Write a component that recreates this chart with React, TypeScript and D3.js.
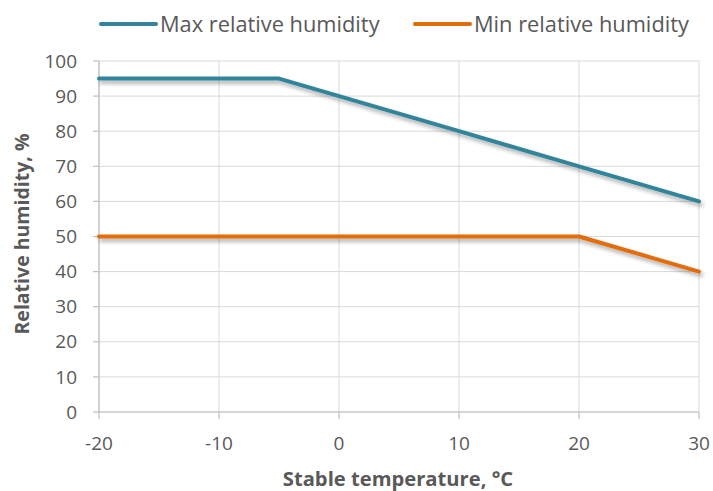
import React from "react";
import * as d3 from "d3";

const xTicks = [-20, -10, 0, 10, 20, 30];
const yTicks = [0, 10, 20, 30, 40, 50, 60, 70, 80, 90, 100];
const maxTemps = [-20, -5, 0, 10, 20, 30];
const maxHumidity = [95, 95, 90, 80, 70, 60];
const minTemps = [-20, 20, 30];
const minHumidity = [50, 50, 40];
const seriesNames = ["Max relative humidity", "Min relative humidity"];
const seriesColors = ["#31849b", "#e36c0a"];

const W = 713, H = 491;
const FONT = "'Open Sans', Lato, sans-serif";

export default function App() {
  const x = d3.scaleLinear().domain([-20, 30]).range([99, 699]);
  const y = d3.scaleLinear().domain([0, 100]).range([412, 61]);
  const line = d3.line<[number, number]>().x(d => x(d[0])).y(d => y(d[1]));
  const maxPts: [number, number][] = maxTemps.map((t, i) => [t, maxHumidity[i]]);
  const minPts: [number, number][] = minTemps.map((t, i) => [t, minHumidity[i]]);
  const series = [maxPts, minPts];
  const legendX = [101, 415];

  return (
    <svg width={W} height={H} style={{ position: "absolute", left: 0, top: 0 }}>
      <defs>
        <filter id="shadow" x="-10%" y="-50%" width="120%" height="200%">
          <feGaussianBlur in="SourceAlpha" stdDeviation="2.2" />
          <feOffset dx="2" dy="3" result="b" />
          <feComponentTransfer>
            <feFuncA type="linear" slope="0.35" />
          </feComponentTransfer>
          <feMerge>
            <feMergeNode />
            <feMergeNode in="SourceGraphic" />
          </feMerge>
        </filter>
      </defs>
      <rect width={W} height={H} fill="#fff" />
      {yTicks.map(v => (
        <line key={"gy" + v} x1={x(-20)} x2={x(30)} y1={y(v)} y2={y(v)} stroke="#d9d9d9" strokeWidth={1} />
      ))}
      {xTicks.map(v => (
        <line key={"gx" + v} x1={x(v)} x2={x(v)} y1={y(0)} y2={y(100)} stroke="#d9d9d9" strokeWidth={1} />
      ))}
      <line x1={x(-20)} x2={x(-20)} y1={y(0)} y2={y(100)} stroke="#bfbfbf" strokeWidth={1.2} />
      <line x1={x(-20)} x2={x(30)} y1={y(0)} y2={y(0)} stroke="#bfbfbf" strokeWidth={1.2} />
      {yTicks.map(v => (
        <g key={"ty" + v}>
          <line x1={x(-20) - 6} x2={x(-20)} y1={y(v)} y2={y(v)} stroke="#bfbfbf" strokeWidth={1.2} />
          <text x={77} y={y(v)} dy="0.35em" textAnchor="end" fontFamily={FONT} fontSize={19} fill="#595959">{v}</text>
        </g>
      ))}
      {xTicks.map(v => (
        <g key={"tx" + v}>
          <line x1={x(v)} x2={x(v)} y1={y(0)} y2={y(0) + 7} stroke="#bfbfbf" strokeWidth={1.2} />
          <text x={x(v)} y={443} dy="0.35em" textAnchor="middle" fontFamily={FONT} fontSize={19} fill="#595959">{v}</text>
        </g>
      ))}
      {series.map((pts, i) => (
        <path key={"s" + i} d={line(pts) || ""} fill="none" stroke={seriesColors[i]} strokeWidth={4} strokeLinejoin="round" strokeLinecap="round" filter="url(#shadow)" />
      ))}
      {seriesNames.map((n, i) => (
        <g key={"l" + i}>
          <line x1={legendX[i]} x2={legendX[i] + 55} y1={24} y2={24} stroke={seriesColors[i]} strokeWidth={4} strokeLinecap="round" />
          <text x={legendX[i] + 59} y={24} dy="0.35em" fontFamily={FONT} fontSize={21.8} fill="#595959">{n}</text>
        </g>
      ))}
      <text x={398} y={486} textAnchor="middle" fontFamily={FONT} fontSize={20.2} fontWeight="bold" fill="#595959">Stable temperature, °C</text>
      <text transform={`translate(22,234) rotate(-90)`} dy="0.35em" textAnchor="middle" fontFamily={FONT} fontSize={19.5} fontWeight="bold" fill="#595959">Relative humidity, %</text>
    </svg>
  );
}
